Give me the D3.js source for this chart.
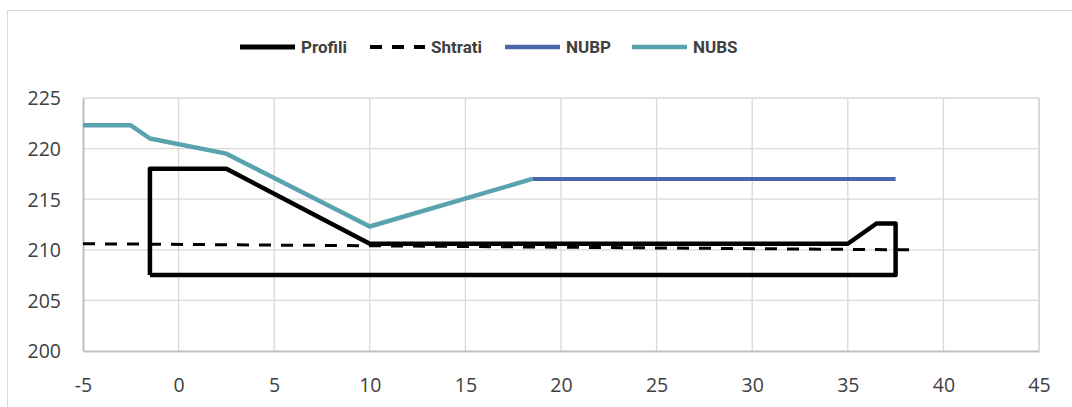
<!DOCTYPE html>
<html>
<head>
<meta charset="utf-8">
<script src="https://cdn.jsdelivr.net/npm/d3@7"></script>
<style>
  body { margin: 0; background: #fff; }
  svg { display: block; }
</style>
</head>
<body>
<div class="chart"></div>
<script>
var width = 1072
  , height = 407
  , margin = { left: 83, right: 33, top: 98, bottom: 56 }
  ;

// series
var profili = [[-1.5, 207.5], [-1.5, 218], [2.5, 218], [10, 210.6], [35, 210.6],
               [36.5, 212.6], [37.5, 212.6], [37.5, 207.5], [-1.5, 207.5]];
var shtrati = [[-5, 210.6], [10, 210.4], [38.2, 210.0]];
var nubp = [[18.5, 217], [37.5, 217]];
var nubs = [[-5, 222.3], [-2.5, 222.3], [-1.5, 221], [2.5, 219.5], [10, 212.3], [18.5, 217]];

var xTicks = [-5, 0, 5, 10, 15, 20, 25, 30, 35, 40, 45];
var yTicks = [200, 205, 210, 215, 220, 225];

var legendNames = ["Profili", "Shtrati", "NUBP", "NUBS"];

var svg = d3.select(".chart").append("svg")
  .attr("width", width)
  .attr("height", height);

// chart border
svg.append("rect")
  .attr("x", 7.5).attr("y", 10.5)
  .attr("width", 1100).attr("height", 420)
  .attr("fill", "none")
  .attr("stroke", "#d9d9d9");

var x = d3.scaleLinear().domain([-5, 45]).range([margin.left, width - margin.right]);
var y = d3.scaleLinear().domain([200, 225]).range([height - margin.bottom, margin.top]);

// grid
svg.append("g").selectAll("line")
  .data(xTicks.slice(1))
  .enter().append("line")
    .attr("x1", function(d) { return x(d); })
    .attr("x2", function(d) { return x(d); })
    .attr("y1", y(225)).attr("y2", y(200))
    .attr("stroke", "#d9d9d9").attr("stroke-width", 1.3);

svg.append("g").selectAll("line")
  .data(yTicks.slice(1))
  .enter().append("line")
    .attr("y1", function(d) { return y(d); })
    .attr("y2", function(d) { return y(d); })
    .attr("x1", x(-5)).attr("x2", x(45))
    .attr("stroke", "#d9d9d9").attr("stroke-width", 1.3);

// axes
var fmt = function(d) { return String(d); };
var xAxis = d3.axisBottom(x).tickValues(xTicks).tickFormat(fmt).tickSize(0);
var yAxis = d3.axisLeft(y).tickValues(yTicks).tickFormat(fmt).tickSize(0).tickPadding(22);

var gx = svg.append("g")
  .attr("transform", "translate(0," + y(200) + ")")
  .call(xAxis);
var gy = svg.append("g")
  .attr("transform", "translate(" + x(-5) + ",0)")
  .call(yAxis);

[gx, gy].forEach(function(g) {
  g.select(".domain").attr("stroke", "#bfbfbf").attr("stroke-width", 2);
  g.selectAll("text")
    .attr("fill", "#404040")
    .style("font-family", "'Open Sans', sans-serif")
    .style("font-size", "19.5px");
});
gx.selectAll("text").attr("dy", "0.35em").attr("y", 34);
gy.selectAll("text").attr("dy", "0.35em");

// right edge of plot area
svg.append("line")
  .attr("x1", x(45)).attr("x2", x(45))
  .attr("y1", y(225)).attr("y2", y(200))
  .attr("stroke", "#d9d9d9").attr("stroke-width", 2);

var line = d3.line()
  .x(function(d) { return x(d[0]); })
  .y(function(d) { return y(d[1]); });

svg.append("path").datum(shtrati)
  .attr("d", line).attr("fill", "none")
  .attr("stroke", "#000").attr("stroke-width", 3)
  .attr("stroke-dasharray", "12,10");

svg.append("path").datum(profili)
  .attr("d", line).attr("fill", "none")
  .attr("stroke", "#000").attr("stroke-width", 4.5)
  .attr("stroke-linejoin", "round");

svg.append("path").datum(nubp)
  .attr("d", line).attr("fill", "none")
  .attr("stroke", "#4a66ac").attr("stroke-width", 4);

svg.append("path").datum(nubs)
  .attr("d", line).attr("fill", "none")
  .attr("stroke", "#58a3ad").attr("stroke-width", 4.5)
  .attr("stroke-linejoin", "round");

// legend
var legendItems = [
  { x: 240, stroke: "#000", dash: null, w: 5 },
  { x: 370, stroke: "#000", dash: "12,10", w: 4 },
  { x: 505, stroke: "#4a66ac", dash: null, w: 4.5 },
  { x: 632, stroke: "#58a3ad", dash: null, w: 4.5 }
];

var lg = svg.append("g").selectAll("g")
  .data(legendItems)
  .enter().append("g")
    .attr("transform", function(d) { return "translate(" + d.x + ",47)"; });

lg.append("line")
  .attr("x1", 0).attr("x2", 55)
  .attr("stroke", function(d) { return d.stroke; })
  .attr("stroke-width", function(d) { return d.w; })
  .attr("stroke-dasharray", function(d) { return d.dash; });

lg.append("text")
  .attr("x", 61).attr("dy", "0.36em")
  .attr("fill", "#404040")
  .style("font-family", "'Liberation Sans Narrow', 'Arial Narrow', 'Roboto', sans-serif")
  .style("font-weight", "bold")
  .style("font-size", "17px")
  .text(function(d, i) { return legendNames[i]; });
</script>
</body>
</html>
